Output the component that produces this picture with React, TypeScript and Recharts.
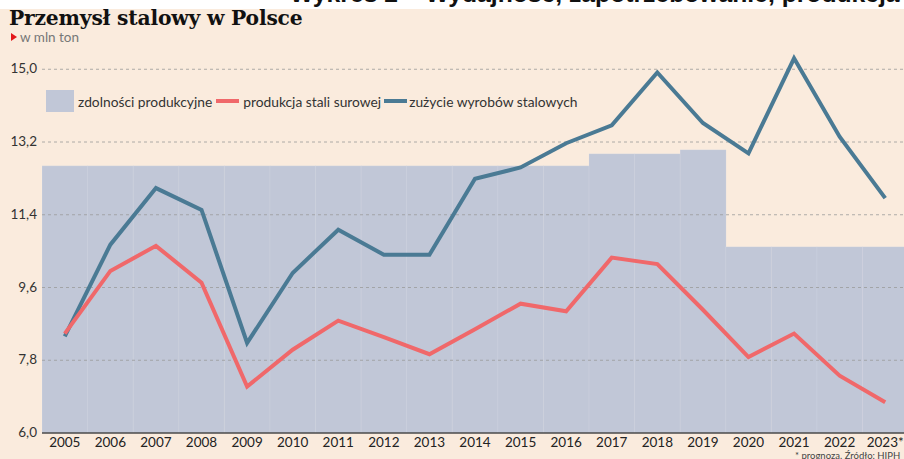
import {
  ComposedChart,
  Bar,
  Line,
  XAxis,
  YAxis,
  CartesianGrid,
} from "recharts";

// Values (mln ton)
const years = [
  "2005", "2006", "2007", "2008", "2009", "2010", "2011", "2012", "2013", "2014",
  "2015", "2016", "2017", "2018", "2019", "2020", "2021", "2022", "2023*",
];
const capacity = [
  12.61, 12.61, 12.61, 12.61, 12.61, 12.61, 12.61, 12.61, 12.61, 12.61,
  12.61, 12.61, 12.91, 12.91, 13.01, 10.61, 10.61, 10.61, 10.61,
];
const production = [
  8.46, 10.01, 10.63, 9.72, 7.15, 8.06, 8.78, 8.37, 7.95, 8.57,
  9.2, 9.01, 10.34, 10.18, 9.05, 7.88, 8.46, 7.42, 6.76,
];
const consumption = [
  8.39, 10.66, 12.06, 11.52, 8.23, 9.96, 11.03, 10.41, 10.41, 12.29,
  12.57, 13.17, 13.61, 14.92, 13.67, 12.92, 15.27, 13.33, 11.81,
];
const yTicks = [6, 7.8, 9.6, 11.4, 13.2, 15];

const BG = "#FAEBDD";
const BAR = "#C1C7D7";
const RED = "#F0686A";
const BLUE = "#4A7A94";
const FONT = "Lato, 'Open Sans', sans-serif";

const data = years.map((y, i) => ({
  year: y,
  capacity: capacity[i],
  production: production[i],
  consumption: consumption[i],
}));

const fmt = (v: number) => v.toFixed(1).replace(".", ",");

// both layers share the same frame so the grid can sit over the bars
const W = 908;
const H = 459;
const MARGIN = { top: 45, right: 0, bottom: 0, left: 0 };
const DOMAIN: [number, number] = [6, 15.6];

function YTick(props: any) {
  const { y, payload } = props;
  return (
    <text x={37} y={y} dy={4} textAnchor="end" fontSize={13.5} fontFamily={FONT} fill="#333">
      {fmt(payload.value)}
    </text>
  );
}

function XTick(props: any) {
  const { x, payload } = props;
  return (
    <text x={x} y={447} textAnchor="middle" fontSize={13.5} fontFamily={FONT} fill="#222">
      {payload.value}
    </text>
  );
}

function LegendRow() {
  const txt = { fontFamily: FONT, fontSize: 13.8, color: "#333", whiteSpace: "nowrap" as const };
  return (
    <div
      style={{
        position: "absolute",
        left: 46,
        top: 90,
        height: 22,
        display: "flex",
        alignItems: "center",
      }}
    >
      <div style={{ width: 28, height: 22, background: BAR, marginRight: 4 }} />
      <span style={txt}>zdolności produkcyjne</span>
      <div style={{ width: 23, height: 4, background: RED, margin: "0 4px" }} />
      <span style={txt}>produkcja stali surowej</span>
      <div style={{ width: 23, height: 4, background: BLUE, margin: "0 2px 0 3px" }} />
      <span style={txt}>zużycie wyrobów stalowych</span>
    </div>
  );
}

export default function App() {
  return (
    <div
      style={{
        position: "fixed",
        left: 0,
        top: 0,
        width: 904,
        height: 459,
        overflow: "hidden",
        background: BG,
      }}
    >
      {/* cut-off document caption above the graphic */}
      <div style={{ position: "absolute", left: 0, top: 0, width: 904, height: 9, background: "#fff", overflow: "hidden" }}>
        <div
          style={{
            position: "absolute",
            left: 290,
            top: -20,
            whiteSpace: "nowrap",
            fontFamily: "'Liberation Sans', Arial, sans-serif",
            fontWeight: 700,
            fontSize: 24.7,
            color: "#111",
          }}
        >
          Wykres 2 – Wydajność, zapotrzebowanie, produkcja
        </div>
      </div>

      {/* layer 1: capacity bars */}
      <div style={{ position: "absolute", left: 0, top: 0 }}>
        <ComposedChart width={W} height={H} data={data} margin={MARGIN} barCategoryGap={0} barGap={0}>
          <XAxis dataKey="year" height={26} tick={false} tickLine={false} axisLine={false} />
          <YAxis width={42} domain={DOMAIN} ticks={yTicks} tick={false} axisLine={false} tickLine={false} allowDataOverflow />
          <Bar
            dataKey="capacity"
            fill={BAR}
            stroke="rgba(255,255,255,0.12)"
            strokeWidth={1}
            isAnimationActive={false}
          />
        </ComposedChart>
      </div>

      {/* layer 2: dashed grid, axes and the two series */}
      <div style={{ position: "absolute", left: 0, top: 0 }}>
        <ComposedChart width={W} height={H} data={data} margin={MARGIN} barCategoryGap={0} barGap={0}>
          <CartesianGrid
            vertical={false}
            stroke="#9a9a9a"
            strokeDasharray="3 3"
            strokeWidth={0.8}
            horizontalValues={yTicks.slice(1)}
          />
          <XAxis
            dataKey="year"
            height={26}
            tickLine={false}
            axisLine={{ stroke: "#4a4a4a", strokeWidth: 1.5 }}
            tick={<XTick />}
            interval={0}
          />
          <YAxis
            width={42}
            domain={DOMAIN}
            ticks={yTicks}
            axisLine={false}
            tickLine={false}
            tick={<YTick />}
            allowDataOverflow
          />
          {/* invisible copy of the bars keeps the band scale identical to layer 1 */}
          <Bar dataKey="capacity" fill="transparent" isAnimationActive={false} />
          <Line
            dataKey="consumption"
            stroke={BLUE}
            strokeWidth={4}
            dot={false}
            activeDot={false}
            isAnimationActive={false}
          />
          <Line
            dataKey="production"
            stroke={RED}
            strokeWidth={4}
            dot={false}
            activeDot={false}
            isAnimationActive={false}
          />
        </ComposedChart>
      </div>

      <div
        style={{
          position: "absolute",
          left: 9,
          top: 6,
          fontFamily: "'DejaVu Serif', serif",
          fontWeight: 700,
          fontSize: 20.3,
          letterSpacing: -0.2,
          color: "#111",
          whiteSpace: "nowrap",
        }}
      >
        Przemysł stalowy w Polsce
      </div>
      <div
        style={{
          position: "absolute",
          left: 11,
          top: 29,
          display: "flex",
          alignItems: "center",
          fontFamily: FONT,
          fontSize: 13.5,
          color: "#777",
        }}
      >
        <span style={{ width: 0, height: 0, borderTop: "4px solid transparent", borderBottom: "4px solid transparent", borderLeft: "6px solid #e3171b", marginRight: 3 }} />
        w mln ton
      </div>

      <LegendRow />

      <div
        style={{
          position: "absolute",
          left: 795,
          top: 450,
          fontFamily: FONT,
          fontSize: 9.5,
          color: "#444",
          whiteSpace: "nowrap",
        }}
      >
        * prognoza. Źródło: HIPH
      </div>
    </div>
  );
}
